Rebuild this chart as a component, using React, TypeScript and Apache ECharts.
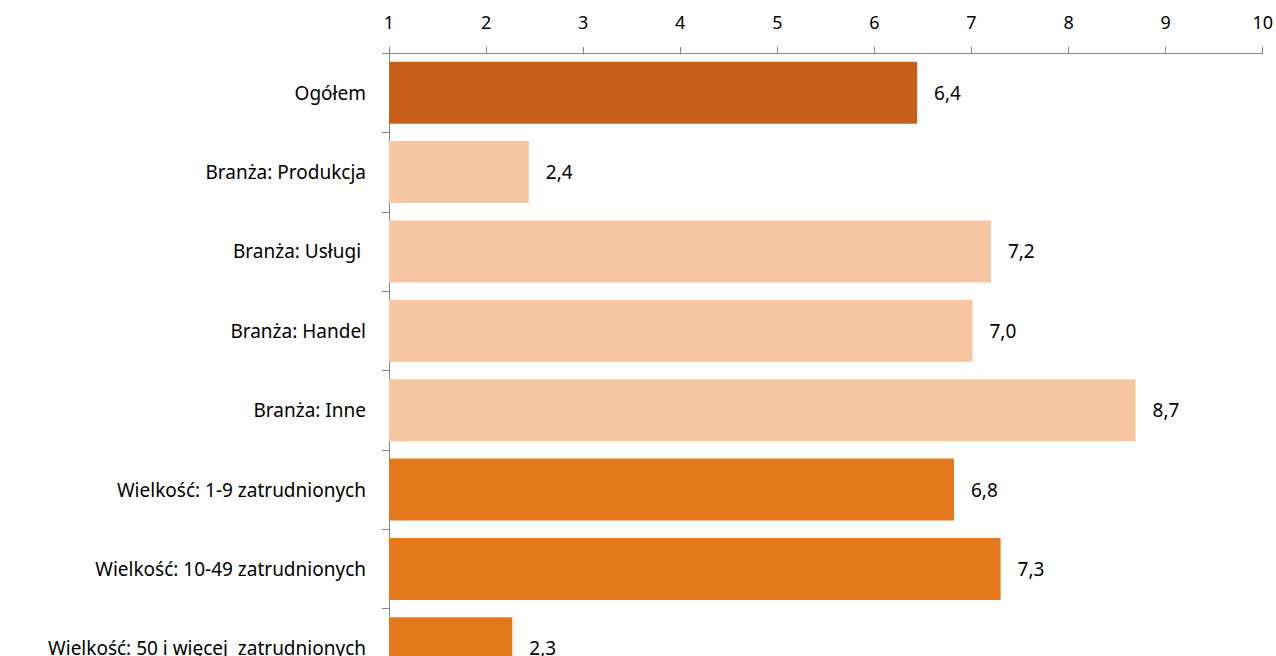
import React, { useEffect, useRef } from "react";
import * as echarts from "echarts";

const categories = [
  "Ogółem",
  "Branża: Produkcja",
  "Branża: Usługi ",
  "Branża: Handel",
  "Branża: Inne",
  "Wielkość: 1-9 zatrudnionych",
  "Wielkość: 10-49 zatrudnionych",
  "Wielkość: 50 i więcej  zatrudnionych",
];
const values = [6.44, 2.44, 7.2, 7.01, 8.69, 6.82, 7.3, 2.27];
const groups = ["total", "branch", "branch", "branch", "branch", "size", "size", "size"];
const xTicks = [1, 2, 3, 4, 5, 6, 7, 8, 9, 10];

const groupColors: Record<string, string> = {
  total: "#C85F19",
  branch: "#F5C6A1",
  size: "#E5781A",
};

export default function App() {
  const ref = useRef<HTMLDivElement>(null);
  useEffect(() => {
    if (!ref.current) return;
    document.body.style.overflow = "hidden";
    const chart = echarts.init(ref.current, null, { renderer: "svg" });
    const font = "'Noto Sans', sans-serif";
    chart.setOption({
      animation: false,
      backgroundColor: "#ffffff",
      grid: { left: 389, right: 13, top: 53, bottom: 0, containLabel: false },
      xAxis: {
        type: "value",
        position: "top",
        min: xTicks[0],
        max: xTicks[xTicks.length - 1],
        interval: 1,
        axisLine: { show: true, lineStyle: { color: "#868686", width: 1 } },
        axisTick: { show: true, length: 6, lineStyle: { color: "#868686" } },
        axisLabel: { color: "#000", fontSize: 18, fontFamily: font, margin: 22 },
        splitLine: { show: false },
      },
      yAxis: {
        type: "category",
        inverse: true,
        data: categories,
        axisLine: { show: true, lineStyle: { color: "#868686", width: 1 } },
        axisTick: { show: true, length: 7, lineStyle: { color: "#868686" } },
        axisLabel: { color: "#000", fontSize: 19, fontFamily: font, margin: 23 },
      },
      series: [
        {
          type: "bar",
          barCategoryGap: "22%",
          data: values.map((v, i) => ({
            value: v,
            itemStyle: { color: groupColors[groups[i]] },
          })),
          label: {
            show: true,
            position: "right",
            distance: 17,
            color: "#000",
            fontSize: 19,
            fontFamily: font,
            formatter: (p: any) => p.value.toFixed(1).replace(".", ","),
          },
        },
      ],
    });
    return () => chart.dispose();
  }, []);
  return (
    <div
      ref={ref}
      style={{ position: "fixed", left: 0, top: 0, width: 1276, height: 688 }}
    />
  );
}
